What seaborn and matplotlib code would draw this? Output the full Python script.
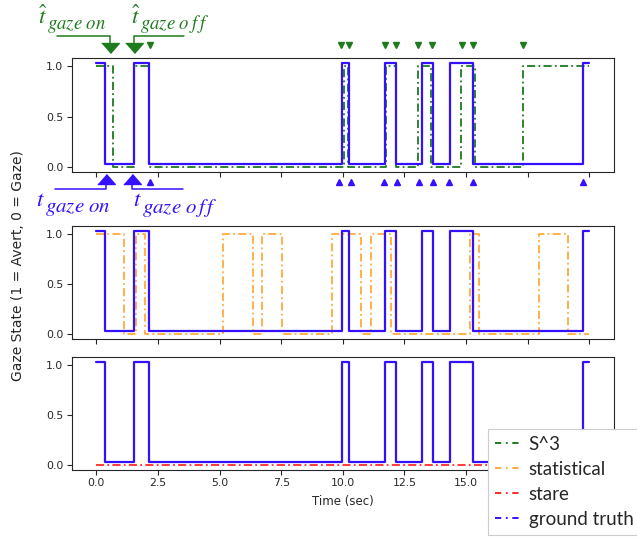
import numpy as np
import pandas as pd
import matplotlib
matplotlib.use("Agg")
import matplotlib.pyplot as plt
import seaborn as sns
from matplotlib.lines import Line2D

##############################################
#   Gaze states  #
##############################################
# each list: time (sec) where a state starts, and that state (1 = Avert, 0 = Gaze)
gt_times = [0.0, 0.35, 1.51, 2.15, 9.96, 10.26, 11.71, 12.17, 13.20, 13.67, 14.35, 15.27, 19.75, 20.0]
gt_states = [1, 0, 1, 0, 1, 0, 1, 0, 1, 0, 1, 0, 1, 1]

s3_times = [0.0, 0.66, 1.51, 2.12, 10.05, 10.20, 11.77, 12.17, 13.05, 13.59, 14.81, 15.35, 17.30, 20.0]
s3_states = [1, 0, 1, 0, 1, 0, 1, 0, 1, 0, 1, 0, 1, 1]

stat_times = [0.0, 1.13, 1.60, 1.97, 5.15, 6.36, 6.74, 7.55, 9.54, 10.75, 11.16, 11.94,
              15.16, 15.52, 17.96, 19.15, 20.0]
stat_states = [1, 0, 1, 0, 1, 0, 1, 0, 1, 0, 1, 0, 1, 0, 1, 0, 0]

stare_times = [0.0, 20.0]
stare_states = [0, 0]

# detected transition times shown as triangles around the first panel
s3_marks = [0.55, 1.53, 2.16, 9.92, 10.23, 11.70, 12.16, 13.05, 13.63, 14.82, 15.28, 17.30]
gt_marks = [0.39, 1.43, 2.16, 9.85, 10.32, 11.67, 12.19, 13.09, 13.67, 14.30, 15.28, 19.74]

labels = ['S^3', 'statistical', 'stare', 'ground truth']
time_ticks = [0, 2.5, 5, 7.5, 10, 12.5, 15, 17.5, 20]
# the last two are hidden behind the legend in the original
time_ticklabels = ['0.0', '2.5', '5.0', '7.5', '10.0', '12.5', '15.0', '', '']

################
#   Styling    #
################
sns.set_theme(style="ticks")
plt.rcParams['font.family'] = ['DejaVu Sans']
plt.rcParams['mathtext.fontset'] = 'stix'

c_gt = '#3311ff'
c_s3 = '#1e7b1e'
c_stat = '#ffaa3c'
c_stare = '#ff2a2a'
dashdot = (0, (4.5, 1.8, 1.0, 1.8))
gt_offset = 0.03  # ground truth drawn slightly above the predictions

W, H = 637, 538
fig = plt.figure(figsize=(W / 100, H / 100), dpi=100)


def px_axes(top, bottom, left=71.7, right=614):
    return fig.add_axes([left / W, 1 - bottom / H, (right - left) / W, (bottom - top) / H])


ax1 = px_axes(58.3, 171.7)
ax2 = px_axes(226, 339)
ax3 = px_axes(357.3, 470)

gt_y = [s + gt_offset for s in gt_states]
panels = [(ax1, s3_times, s3_states, c_s3),
          (ax2, stat_times, stat_states, c_stat),
          (ax3, stare_times, stare_states, c_stare)]

for ax, t, s, c in panels:
    sns.lineplot(x=t, y=s, ax=ax, color=c, linestyle=dashdot, linewidth=1.3,
                 drawstyle='steps-post', estimator=None, sort=False, errorbar=None)
    sns.lineplot(x=gt_times, y=gt_y, ax=ax, color=c_gt, linewidth=1.6,
                 drawstyle='steps-post', estimator=None, sort=False, errorbar=None)
    ax.set_xlim(-1, 21)
    ax.set_ylim(-0.0515, 1.0815)
    ax.set_yticks([0, 0.5, 1.0])
    ax.set_xticks(time_ticks)
    ax.tick_params(length=3.5, width=0.8, labelsize=7.8, pad=2.5, colors='.15')
    for sp in ax.spines.values():
        sp.set_linewidth(0.8)
    ax.set_xlabel('')
    ax.set_ylabel('')

ax1.tick_params(labelbottom=False)
ax2.tick_params(labelbottom=False)
ax3.set_xticklabels(time_ticklabels)
ax3.set_xlabel('Time (sec)', fontsize=8.5, labelpad=5)

##########################################
#   Transition markers and annotations   #
##########################################
flat_down = [(-1, 0.57), (1, 0.57), (0, -0.57)]
flat_up = [(-1, -0.57), (1, -0.57), (0, 0.57)]

ax1.plot(s3_marks[2:], [1.213] * len(s3_marks[2:]), 'v', color=c_s3, ms=4.7, clip_on=False)
ax1.plot(gt_marks[2:], [-0.157] * len(gt_marks[2:]), '^', color=c_gt, ms=4.7, clip_on=False)
ax1.plot(s3_marks[:2], [1.186] * 2, marker=flat_down, ls='none', color=c_s3, ms=12.6, clip_on=False)
ax1.plot(gt_marks[:2], [-0.124] * 2, marker=flat_up, ls='none', color=c_gt, ms=12.6, clip_on=False)

# connectors from the big triangles to their labels
ax1.plot([s3_marks[0] - 2.13, s3_marks[0], s3_marks[0]], [1.303, 1.303, 1.236],
         color=c_s3, lw=1.1, clip_on=False)
ax1.plot([s3_marks[1], s3_marks[1], s3_marks[1] + 2.04], [1.236, 1.303, 1.303],
         color=c_s3, lw=1.1, clip_on=False)
ax1.plot([gt_marks[0] - 2.07, gt_marks[0], gt_marks[0]], [-0.22, -0.22, -0.177],
         color=c_gt, lw=1.1, clip_on=False)
ax1.plot([gt_marks[1], gt_marks[1], gt_marks[1] + 2.09], [-0.177, -0.22, -0.22],
         color=c_gt, lw=1.1, clip_on=False)


def symbol(x, y, main, sub, color, main_size, sub_size, sub_dx, sub_dy):
    # main letter, then a larger-than-usual subscript set beside it
    ax1.text(x, y, main, color=color, fontsize=main_size, va='baseline', clip_on=False)
    ax1.text(x + sub_dx, y + sub_dy, sub, color=color, fontsize=sub_size, va='baseline', clip_on=False)


symbol(-2.38, 1.42, r'$\hat{t}$', r'$gaze\ on$', c_s3, 16.5, 13.5, 0.36, -0.05)
symbol(1.41, 1.42, r'$\hat{t}$', r'$gaze\ o\:f\:f$', c_s3, 16.5, 13.5, 0.36, -0.05)
symbol(-2.45, -0.395, r'$t$', r'$gaze\ on$', c_gt, 16.5, 15, 0.38, -0.06)
symbol(1.47, -0.395, r'$t$', r'$gaze\ o\,f\,f$', c_gt, 16.5, 15, 0.38, -0.07)

fig.text(18 / W, 1 - 266 / H, 'Gaze State (1 = Avert, 0 = Gaze)', rotation=90,
         ha='center', va='center', fontsize=10, color='.15')

handles = [Line2D([], [], color=c, linestyle=(0, (3.2, 2.4, 0.9, 2.4)), lw=1.4)
           for c in [c_s3, c_stat, c_stare, c_gt]]
leg = fig.legend(handles, labels, loc='upper left', bbox_to_anchor=(488.3 / W, 1 - 429.3 / H),
                 borderaxespad=0, frameon=True, fancybox=False, edgecolor='#cccccc',
                 framealpha=1, facecolor='white',
                 prop={'family': 'Lato', 'size': 13.5}, handlelength=1.45, handletextpad=0.35,
                 labelspacing=0.43, borderpad=0.35)
leg.get_frame().set_linewidth(0.8)

fig.savefig('out.png', dpi=100)
